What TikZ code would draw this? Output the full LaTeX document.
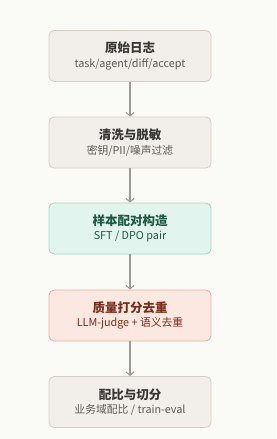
\documentclass[tikz,border=0pt]{standalone}
\usepackage{fontspec}
\setmainfont{Noto Sans CJK SC}
\usetikzlibrary{arrows.meta}
\definecolor{bg}{HTML}{FAFAF7}
\definecolor{nfill}{HTML}{F2EFEA}
\definecolor{ndraw}{HTML}{D3CEC6}
\definecolor{ntext}{HTML}{3A3835}
\definecolor{nsub}{HTML}{5F5C58}
\definecolor{gfill}{HTML}{E2F4EE}
\definecolor{gdraw}{HTML}{A3D6C2}
\definecolor{gtext}{HTML}{1E5A43}
\definecolor{rfill}{HTML}{FBE8E1}
\definecolor{rdraw}{HTML}{E4B1A2}
\definecolor{rtext}{HTML}{7B2D18}
\definecolor{arr}{HTML}{9C9A97}
\tikzset{
  x=1pt,y=-1pt,
  stepbox/.style={draw=ndraw,fill=nfill,rounded corners=5pt,line width=0.8pt,
    minimum width=162pt,minimum height=51pt,inner sep=0pt,align=center,text=ntext},
  greenbox/.style={stepbox,draw=gdraw,fill=gfill,text=gtext},
  redbox/.style={stepbox,draw=rdraw,fill=rfill,text=rtext},
  conn/.style={draw=arr,line width=1.1pt,-{Straight Barb[length=3.5pt,width=8pt,line width=1pt]}},
}
\newcommand{\ttl}[1]{{\fontsize{12.5}{15}\selectfont\bfseries #1}}
\newcommand{\sub}[2]{{\fontsize{10.8}{13}\selectfont\color{#1}#2}}
\begin{document}
\begin{tikzpicture}
\useasboundingbox[fill=bg] (0,0) rectangle (276,439);
\node[stepbox] (n1) at (130,56) {\ttl{原始日志}\\[2.5pt]\sub{nsub}{task/agent/diff/accept}};
\node[stepbox] (n2) at (130,142.5) {\ttl{清洗与脱敏}\\[2.5pt]\sub{nsub}{密钥/PII/噪声过滤}};
\node[greenbox] (n3) at (130,228.5) {\ttl{样本配对构造}\\[2.5pt]\sub{gtext}{SFT / DPO pair}};
\node[redbox] (n4) at (130,315.5) {\ttl{质量打分去重}\\[2.5pt]\sub{rtext}{LLM-judge + 语义去重}};
\node[stepbox] (n5) at (130,402) {\ttl{配比与切分}\\[2.5pt]\sub{nsub}{业务域配比 / train-eval}};
\draw[conn] (n1) -- (n2);
\draw[conn] (n2) -- (n3);
\draw[conn] (n3) -- (n4);
\draw[conn] (n4) -- (n5);
\end{tikzpicture}
\end{document}
